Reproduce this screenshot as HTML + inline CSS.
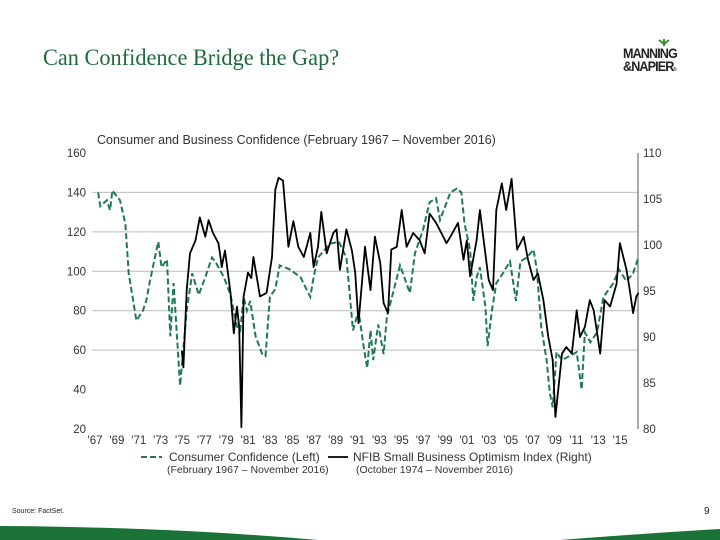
<!DOCTYPE html>
<html><head><meta charset="utf-8"><style>
body{margin:0;width:720px;height:540px;background:#fff;overflow:hidden;position:relative;font-family:"Liberation Sans",Arial,sans-serif}
.t{position:absolute;white-space:nowrap}
</style></head><body>
<div class="t" style="left:43px;top:45px;font-family:'Liberation Serif',serif;font-size:23px;color:#1d6b3c;transform:scaleX(0.97);transform-origin:left">Can Confidence Bridge the Gap?</div>
<div style="position:absolute;left:622px;top:36px;width:70px;height:40px">
<svg width="70" height="40"><path d="M42 10 L42 3 M42 8 L37 4 M42 8 L47 4" stroke="#3a8a3a" stroke-width="2" fill="none"/></svg>
<div class="t" style="left:1px;top:9px;font-weight:bold;font-size:14px;letter-spacing:-1px;color:#222;transform:scaleX(0.9);transform-origin:left">MANNING</div>
<div class="t" style="left:1px;top:22px;font-weight:bold;font-size:14px;letter-spacing:-1px;color:#222;transform:scaleX(0.9);transform-origin:left">&amp;NAPIER<span style="font-size:5px">®</span></div>
</div>
<div class="t" style="left:97px;top:133px;font-size:12.5px;color:#333">Consumer and Business Confidence (February 1967 – November 2016)</div>
<svg id="chart" width="720" height="540" style="position:absolute;left:0;top:0"></svg>
<div class="t" style="left:167px;top:464px;font-size:10.5px;color:#333">(February 1967 – November 2016)</div>
<div class="t" style="left:356px;top:464px;font-size:10.5px;color:#333">(October 1974 – November 2016)</div>
<div class="t" style="left:12px;top:508px;font-size:7px;color:#222">Source: FactSet.</div>
<div class="t" style="left:704px;top:506px;font-size:10px;color:#222">9</div>
<svg width="720" height="540" style="position:absolute;left:0;top:0">
<path d="M0 526 Q170 527 318 540 L0 540 Z" fill="#1a7236"/>
<path d="M560 540 Q650 533 720 529 L720 540 Z" fill="#1a7236"/>
</svg>
<script>
const ccYears=[1967.1,1967.3,1967.9,1968.2,1968.4,1969.1,1969.6,1969.9,1970.6,1971.2,1971.5,1971.8,1972.6,1972.9,1973.4,1973.7,1974.0,1974.6,1975.2,1975.7,1976.3,1976.9,1977.5,1977.8,1978.6,1979.2,1979.8,1980.1,1980.4,1980.7,1981.0,1981.5,1982.1,1982.4,1982.8,1983.3,1983.7,1984.6,1985.6,1986.5,1986.8,1987.2,1988.3,1989.1,1989.8,1990.4,1990.9,1991.4,1991.7,1992.0,1992.25,1992.7,1993.2,1993.5,1994.1,1994.7,1995.6,1996.06,1996.8,1997.4,1998.0,1998.35,1999.3,1999.9,2000.3,2000.6,2001.1,2001.4,2001.7,2002.0,2002.5,2002.7,2003.1,2003.5,2004.1,2004.75,2005.3,2005.7,2006.3,2006.9,2007.2,2007.6,2008.1,2008.4,2008.65,2009.0,2009.5,2010.2,2010.85,2011.3,2011.6,2012.1,2012.7,2013.3,2014.2,2014.7,2015.4,2016.0,2016.3,2016.5];
const ccValues=[140,133,136,131,141,136,124,99,75,80,85,94,115,102,106,67,94,42,80,99,88,97,107,105,97,88,72,70,87,80,85,67,58,57,87,91,103,101,97,87,97,107,114,115,107,70,80,61,51,70,55,73,58,77,90,103,89,109,121,135,137,126,140,142,140,124,111,85,97,102,82,62,80,94,99,105,85,105,107,111,101,72,55,38,31,59,55,57,59,40,69,64,69,87,94,101,95,99,104,107];
const nfYears=[1974.75,1974.9,1975.2,1975.5,1976.0,1976.4,1976.9,1977.2,1977.6,1978.1,1978.25,1978.4,1978.7,1979.2,1979.5,1979.8,1980.0,1980.2,1980.4,1980.8,1981.1,1981.3,1981.9,1982.5,1983.0,1983.3,1983.6,1984.0,1984.5,1984.95,1985.4,1985.9,1986.5,1986.8,1987.2,1987.5,1988.0,1988.6,1988.9,1989.2,1989.8,1990.3,1990.6,1990.9,1991.5,1992.0,1992.4,1992.9,1993.2,1993.6,1993.9,1994.4,1994.85,1995.3,1995.9,1996.5,1996.95,1997.4,1998.0,1998.35,1998.95,1999.3,2000.0,2000.5,2000.8,2001.1,2001.7,2002.0,2002.3,2002.8,2003.2,2003.5,2004.0,2004.4,2004.9,2005.4,2006.0,2006.4,2006.9,2007.3,2007.8,2008.25,2008.65,2008.9,2009.5,2009.9,2010.4,2010.85,2011.15,2011.6,2012.05,2012.4,2013.0,2013.4,2013.9,2014.5,2014.8,2015.4,2015.7,2016.0,2016.3,2016.5];
const nfValues=[88.5,86.7,95.1,99.1,100.5,103.0,100.9,102.7,101.3,100.2,99.0,97.6,99.4,94.8,90.4,93.3,91.1,80.2,94.4,97.0,96.4,98.7,94.4,94.8,98.7,106.0,107.3,107.0,99.8,102.6,99.8,98.7,101.3,97.6,99.8,103.6,99.1,101.3,101.7,97.3,101.7,99.4,97.0,91.5,99.8,95.1,100.9,98.0,93.7,92.6,99.5,99.8,103.8,99.8,101.3,100.5,99.1,103.4,102.4,101.6,100.2,100.9,102.4,98.4,100.5,96.6,100.5,103.8,100.9,96.2,95.1,103.8,106.7,103.8,107.2,99.5,100.9,98.4,96.2,96.9,94.0,90.0,87.5,81.3,88.2,88.9,88.2,92.9,90.0,91.1,94.0,92.9,88.2,94.0,93.3,95.8,100.2,97.3,95.1,92.6,94.4,94.8,98.0];
const leftTicks=[160,140,120,100,80,60,40,20];
const rightTicks=[110,105,100,95,90,85,80];
const gridValues=[140,120,100,80,60];
const xLabels=["'67","'69","'71","'73","'75","'77","'79","'81","'83","'85","'87","'89","'91","'93","'95","'97","'99","'01","'03","'05","'07","'09","'11","'13","'15"];
const xLabelYears=[1967,1969,1971,1973,1975,1977,1979,1981,1983,1985,1987,1989,1991,1993,1995,1997,1999,2001,2003,2005,2007,2009,2011,2013,2015];

const X0=92,X1=638,TOP=153,BOT=429;
const x=yr=>97+(yr-1967)*10.94;
const yL=v=>TOP+(160-v)/140*(BOT-TOP);
const yR=v=>TOP+(110-v)/30*(BOT-TOP);
const svg=document.getElementById('chart');
const NS='http://www.w3.org/2000/svg';
function mk(tag,attrs){const e=document.createElementNS(NS,tag);for(const k in attrs)e.setAttribute(k,attrs[k]);svg.appendChild(e);return e;}

gridValues.forEach(v=>{
  const l=mk('line',{x1:X0,x2:X1,y1:yL(v),y2:yL(v),stroke:'#bbb','stroke-width':1});
  
  
});
leftTicks.forEach(v=>{
  const t=mk('text',{x:86,y:yL(v)+4,'text-anchor':'end','font-size':'11.5','font-family':'Liberation Sans, Arial, sans-serif',fill:'#333'});
  t.textContent=v;
  
  
});
rightTicks.forEach(v=>{
  const t=mk('text',{x:643,y:yR(v)+4,'font-size':'11.5','font-family':'Liberation Sans, Arial, sans-serif',fill:'#333'});
  t.textContent=v;
  
  
});
const ax=mk('line',{x1:X1,x2:X1,y1:TOP,y2:BOT,stroke:'#555','stroke-width':1});


xLabelYears.forEach((yr,i)=>{
  const t=mk('text',{x:x(yr)-2,y:444,'text-anchor':'middle','font-size':'11.5','font-family':'Liberation Sans, Arial, sans-serif',fill:'#333'});
  t.textContent=xLabels[i];
  
  
});
const ccPts=ccYears.map((yr,i)=>x(yr).toFixed(1)+','+yL(ccValues[i]).toFixed(1)).join(' ');
const cc=mk('polyline',{points:ccPts,fill:'none',stroke:'#1e7a55','stroke-width':2,'stroke-dasharray':'6,3'});


const nfPts=nfYears.map((yr,i)=>x(yr).toFixed(1)+','+yR(nfValues[i]).toFixed(1)).join(' ');
const nf=mk('polyline',{points:nfPts,fill:'none',stroke:'#000','stroke-width':1.8,'stroke-linejoin':'round'});



const l1=mk('line',{x1:141,x2:162,y1:457,y2:457,stroke:'#1e7a55','stroke-width':2,'stroke-dasharray':'6,3'});


const t1=mk('text',{x:169,y:461,'font-size':'12','font-family':'Liberation Sans, Arial, sans-serif',fill:'#333'});
t1.textContent='Consumer Confidence (Left)';


const l2=mk('line',{x1:328,x2:348,y1:457,y2:457,stroke:'#000','stroke-width':1.8});


const t2=mk('text',{x:353,y:461,'font-size':'12','font-family':'Liberation Sans, Arial, sans-serif',fill:'#333'});
t2.textContent='NFIB Small Business Optimism Index (Right)';


</script>
</body></html>
